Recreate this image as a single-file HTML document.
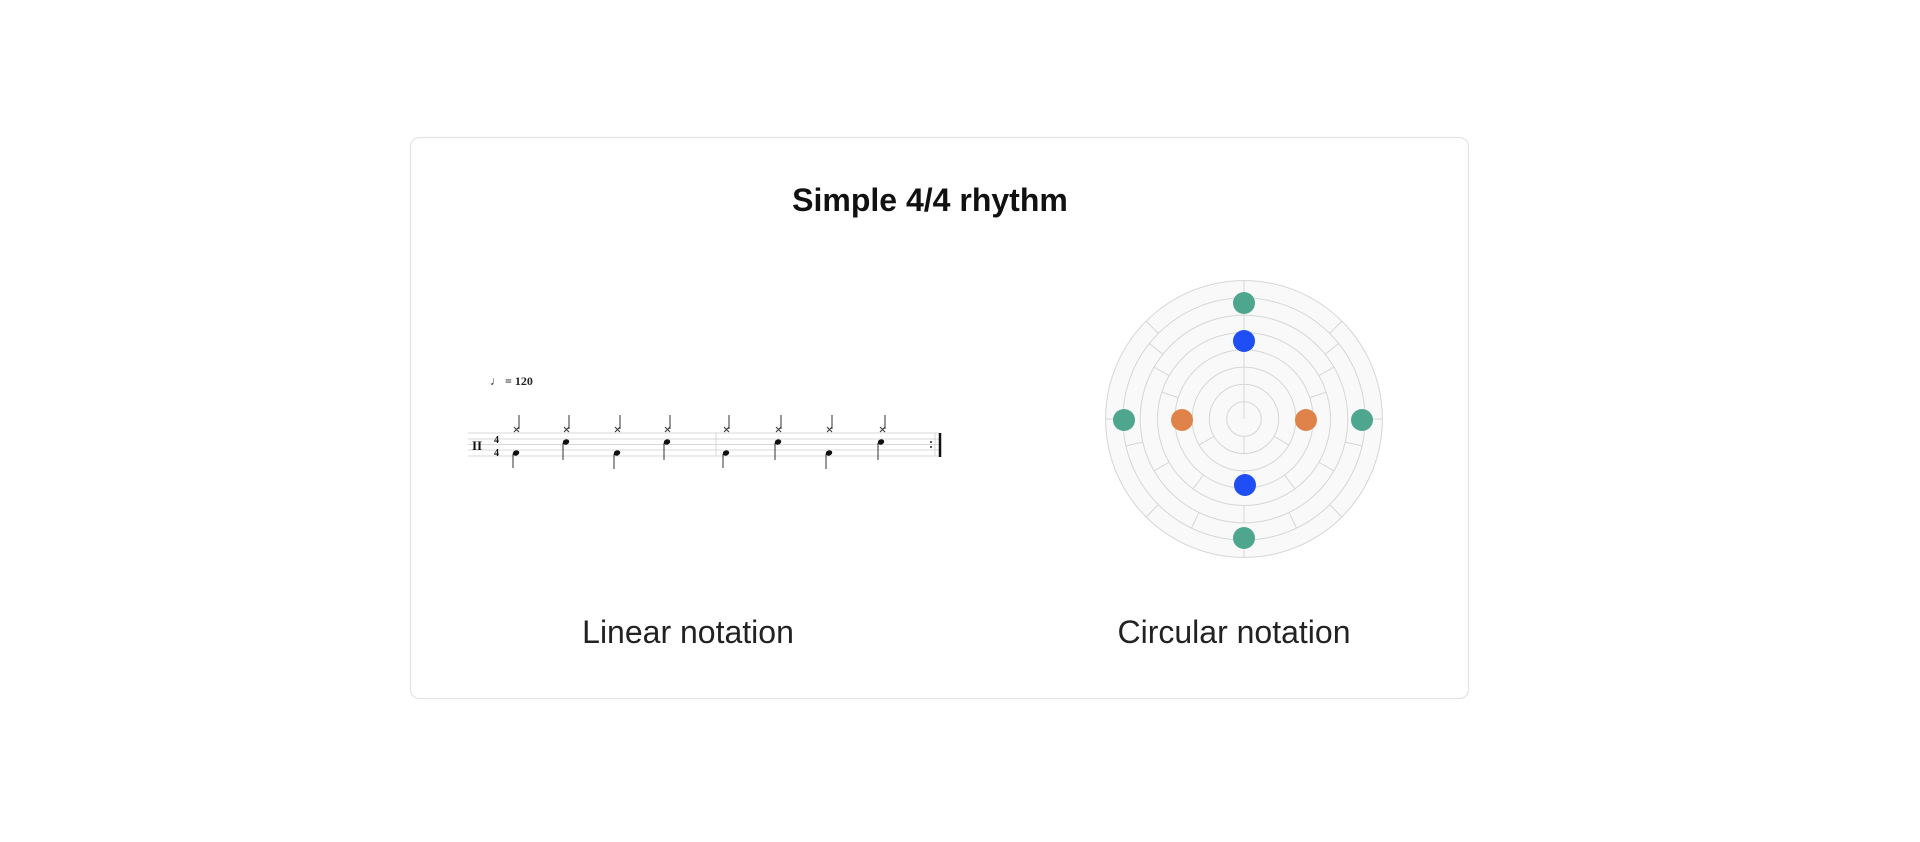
<!DOCTYPE html>
<html><head><meta charset="utf-8"><style>
html,body{margin:0;padding:0;background:#fff;}
body{width:1920px;height:842px;overflow:hidden;position:relative;font-family:"Liberation Sans",sans-serif;}
</style></head><body>
<svg width="1920" height="842" viewBox="0 0 1920 842" xmlns="http://www.w3.org/2000/svg" style="position:absolute;left:0;top:0">
<rect x="410.5" y="137.5" width="1058" height="561" rx="9" fill="#fff" stroke="#e4e4e4" stroke-width="1.2"/>
<text x="930" y="211" text-anchor="middle" font-family="Liberation Sans, sans-serif" font-weight="bold" font-size="32" fill="#111">Simple 4/4 rhythm</text>
<text x="688" y="643" text-anchor="middle" font-family="Liberation Sans, sans-serif" font-size="32" fill="#222">Linear notation</text>
<text x="1234" y="643" text-anchor="middle" font-family="Liberation Sans, sans-serif" font-size="32" fill="#222">Circular notation</text>

<!-- circle -->
<g transform="translate(1244,419)" stroke="#d6d6d6" stroke-width="1" fill="none">
<circle r="138.4" fill="#f9f9f9"/>
<circle r="121.1"/><circle r="103.8"/><circle r="86.5"/><circle r="69.2"/><circle r="51.9"/><circle r="34.6"/><circle r="17.3"/>
<line x1="0" y1="0" x2="0" y2="-17.3"/>
<g><line x1="0" y1="-17.3" x2="0" y2="-34.6"/><line x1="0" y1="-17.3" x2="0" y2="-34.6" transform="rotate(180)"/></g>
<g><line x1="0" y1="-34.6" x2="0" y2="-51.9"/><line x1="0" y1="-34.6" x2="0" y2="-51.9" transform="rotate(120)"/><line x1="0" y1="-34.6" x2="0" y2="-51.9" transform="rotate(240)"/></g>
<g><line x1="0" y1="-51.9" x2="0" y2="-69.2"/><line x1="0" y1="-51.9" x2="0" y2="-69.2" transform="rotate(90)"/><line x1="0" y1="-51.9" x2="0" y2="-69.2" transform="rotate(180)"/><line x1="0" y1="-51.9" x2="0" y2="-69.2" transform="rotate(270)"/></g>
<g><line x1="0" y1="-69.2" x2="0" y2="-86.5"/><line x1="0" y1="-69.2" x2="0" y2="-86.5" transform="rotate(72)"/><line x1="0" y1="-69.2" x2="0" y2="-86.5" transform="rotate(144)"/><line x1="0" y1="-69.2" x2="0" y2="-86.5" transform="rotate(216)"/><line x1="0" y1="-69.2" x2="0" y2="-86.5" transform="rotate(288)"/></g>
<g><line x1="0" y1="-86.5" x2="0" y2="-103.8"/><line x1="0" y1="-86.5" x2="0" y2="-103.8" transform="rotate(60)"/><line x1="0" y1="-86.5" x2="0" y2="-103.8" transform="rotate(120)"/><line x1="0" y1="-86.5" x2="0" y2="-103.8" transform="rotate(180)"/><line x1="0" y1="-86.5" x2="0" y2="-103.8" transform="rotate(240)"/><line x1="0" y1="-86.5" x2="0" y2="-103.8" transform="rotate(300)"/></g>
<g><line x1="0" y1="-103.8" x2="0" y2="-121.1"/><line x1="0" y1="-103.8" x2="0" y2="-121.1" transform="rotate(51.43)"/><line x1="0" y1="-103.8" x2="0" y2="-121.1" transform="rotate(102.86)"/><line x1="0" y1="-103.8" x2="0" y2="-121.1" transform="rotate(154.29)"/><line x1="0" y1="-103.8" x2="0" y2="-121.1" transform="rotate(205.71)"/><line x1="0" y1="-103.8" x2="0" y2="-121.1" transform="rotate(257.14)"/><line x1="0" y1="-103.8" x2="0" y2="-121.1" transform="rotate(308.57)"/></g>
<g><line x1="0" y1="-121.1" x2="0" y2="-138.4"/><line x1="0" y1="-121.1" x2="0" y2="-138.4" transform="rotate(45)"/><line x1="0" y1="-121.1" x2="0" y2="-138.4" transform="rotate(90)"/><line x1="0" y1="-121.1" x2="0" y2="-138.4" transform="rotate(135)"/><line x1="0" y1="-121.1" x2="0" y2="-138.4" transform="rotate(180)"/><line x1="0" y1="-121.1" x2="0" y2="-138.4" transform="rotate(225)"/><line x1="0" y1="-121.1" x2="0" y2="-138.4" transform="rotate(270)"/><line x1="0" y1="-121.1" x2="0" y2="-138.4" transform="rotate(315)"/></g>
</g>
<g>
<circle cx="1244" cy="303" r="11" fill="#4ea68f"/>
<circle cx="1244" cy="538" r="11" fill="#4ea68f"/>
<circle cx="1124" cy="420" r="11" fill="#4ea68f"/>
<circle cx="1362" cy="420" r="11" fill="#4ea68f"/>
<circle cx="1244" cy="341" r="11" fill="#1f4ef5"/>
<circle cx="1245" cy="485" r="11" fill="#1f4ef5"/>
<circle cx="1182" cy="420" r="11" fill="#e0834a"/>
<circle cx="1306" cy="420" r="11" fill="#e0834a"/>
</g>

<!-- staff -->
<g stroke="#d8d8d8" stroke-width="1">
<line x1="468" y1="433" x2="940" y2="433"/>
<line x1="468" y1="439" x2="940" y2="439"/>
<line x1="468" y1="444.5" x2="940" y2="444.5"/>
<line x1="468" y1="450" x2="940" y2="450"/>
<line x1="468" y1="456" x2="940" y2="456"/>
<line x1="716" y1="433" x2="716" y2="456"/>
<line x1="935" y1="433" x2="935" y2="456"/>
</g>
<line x1="940" y1="433" x2="940" y2="457" stroke="#111" stroke-width="2.5"/>
<circle cx="931" cy="442" r="1" fill="#222"/><circle cx="931" cy="447" r="1" fill="#222"/>
<text x="472" y="450" font-family="Liberation Serif, serif" font-weight="bold" font-size="13" fill="#111">II</text>
<text x="494" y="443" font-family="Liberation Serif, serif" font-weight="bold" font-size="10" fill="#111">4</text>
<text x="494" y="456" font-family="Liberation Serif, serif" font-weight="bold" font-size="10" fill="#111">4</text>
<text x="490" y="385" font-family="Liberation Serif, serif" font-weight="bold" font-size="12" fill="#222">♩ = 120</text>
<g stroke="#333" stroke-width="1" fill="none">
<path d="M514 427l5 5M519 427l-5 5M519 429V415"/>
<path d="M564 427l5 5M569 427l-5 5M569 429V415"/>
<path d="M615 427l5 5M620 427l-5 5M620 429V415"/>
<path d="M665 427l5 5M670 427l-5 5M670 429V415"/>
<path d="M724 427l5 5M729 427l-5 5M729 429V415"/>
<path d="M776 427l5 5M781 427l-5 5M781 429V415"/>
<path d="M827 427l5 5M832 427l-5 5M832 429V415"/>
<path d="M880 427l5 5M885 427l-5 5M885 429V415"/>
<path d="M513 454V468M563 443V460M614 454V469M664 443V460M723 454V468M775 443V460M826 454V469M878 443V460"/>
</g>
<g fill="#111">
<ellipse cx="516" cy="453" rx="3.3" ry="2.6" transform="rotate(-20 516 453)"/>
<ellipse cx="566" cy="442" rx="3.3" ry="2.6" transform="rotate(-20 566 442)"/>
<ellipse cx="617" cy="453" rx="3.3" ry="2.6" transform="rotate(-20 617 453)"/>
<ellipse cx="667" cy="442" rx="3.3" ry="2.6" transform="rotate(-20 667 442)"/>
<ellipse cx="726" cy="453" rx="3.3" ry="2.6" transform="rotate(-20 726 453)"/>
<ellipse cx="778" cy="442" rx="3.3" ry="2.6" transform="rotate(-20 778 442)"/>
<ellipse cx="829" cy="453" rx="3.3" ry="2.6" transform="rotate(-20 829 453)"/>
<ellipse cx="881" cy="442" rx="3.3" ry="2.6" transform="rotate(-20 881 442)"/>
</g>
</svg>
</body></html>
